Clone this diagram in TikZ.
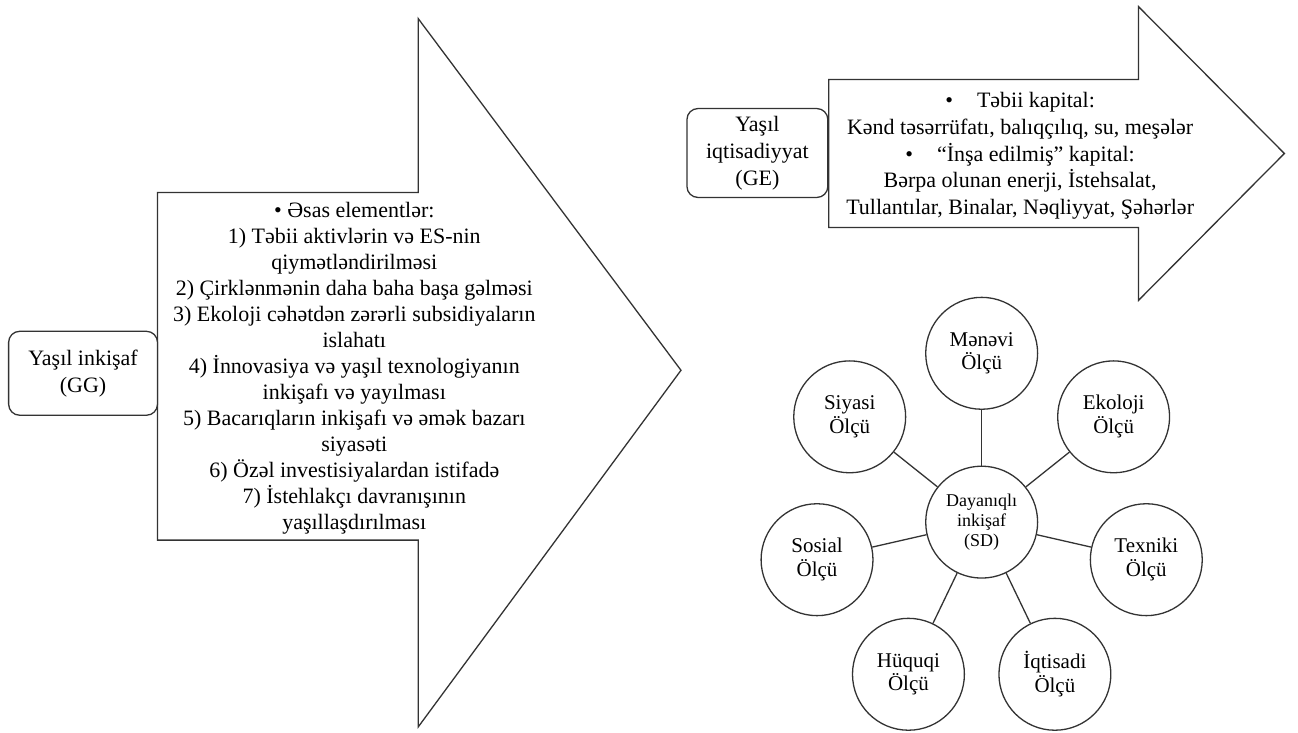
\documentclass[tikz,border=0pt]{standalone}
\usepackage{fontspec}
\setmainfont{Liberation Serif}
\begin{document}
\begin{tikzpicture}[x=1pt,y=-1pt,
  line width=1.3pt,
  every path/.style={draw=black!80},
  shp/.style={draw=black!80,line width=1.3pt,fill=white,line join=miter},
  rbox/.style={draw=black!80,line width=1.3pt,fill=white,rounded corners=11pt,align=center,inner sep=0pt,
    font=\fontsize{22}{27}\selectfont},
  atext/.style={align=center,inner sep=0pt,font=\fontsize{22}{26}\selectfont},
  dim/.style={circle,draw=black!80,line width=1.3pt,fill=white,minimum size=112pt,inner sep=0pt,align=center,
    font=\fontsize{21}{24}\selectfont},
  hub/.style={dim,font=\fontsize{18}{20}\selectfont},
  link/.style={draw=black!80,line width=1.3pt}]
\useasboundingbox (0,0) rectangle (1298,732);
\fill[white] (0,0) rectangle (1298,732);
% left arrow
\draw[shp] (157,192) -- (418,192) -- (418,18) -- (681,370) -- (418,727) -- (418,540) -- (157,540) -- cycle;
\node[atext] (ggtext) at (354,368) {%
  • Əsas elementlər:\\
  1) Təbii aktivlərin və ES-nin\\
  qiymətləndirilməsi\\
  2) Çirklənmənin daha baha başa gəlməsi\\
  3) Ekoloji cəhətdən zərərli subsidiyaların\\
  islahatı\\
  4) İnnovasiya və yaşıl texnologiyanın\\
  inkişafı və yayılması\\
  5) Bacarıqların inkişafı və əmək bazarı\\
  siyasəti\\
  6) Özəl investisiyalardan istifadə\\
  7) İstehlakçı davranışının\\
  yaşıllaşdırılması};
\node[rbox,minimum width=149pt,minimum height=84pt] (gg) at (82.5,373) {Yaşıl inkişaf\\(GG)};
% right arrow
\draw[shp] (829,79) -- (1139,79) -- (1139,6) -- (1285,153) -- (1139,300) -- (1139,227) -- (829,227) -- cycle;
\node[atext,font=\fontsize{22}{26.7}\selectfont] (getext) at (1020.5,155.5) {%
  •\hspace{24pt}Təbii kapital:\\
  Kənd təsərrüfatı, balıqçılıq, su, meşələr\\
  •\hspace{24pt}“İnşa edilmiş” kapital:\\
  Bərpa olunan enerji, İstehsalat,\\
  Tullantılar, Binalar, Nəqliyyat, Şəhərlər};
\node[rbox,minimum width=141pt,minimum height=89pt] (ge) at (757.5,152.5) {Yaşıl\\iqtisadiyyat\\(GE)};
% sustainable development
\node[hub] (sd) at (982,522) {Dayanıqlı\\inkişaf\\(SD)};
\node[dim] (m) at (982,353) {Mənəvi\\Ölçü};
\node[dim] (siy) at (849.9,416.6) {Siyasi\\Ölçü};
\node[dim] (sos) at (817.2,559.6) {Sosial\\Ölçü};
\node[dim] (huq) at (908.7,674.3) {Hüquqi\\Ölçü};
\node[dim] (iqt) at (1055.3,674.3) {İqtisadi\\Ölçü};
\node[dim] (tex) at (1146.8,559.6) {Texniki\\Ölçü};
\node[dim] (eko) at (1114.1,416.6) {Ekoloji\\Ölçü};
\foreach \n in {m,siy,sos,huq,iqt,tex,eko}
  \draw[link] (sd) -- (\n);
\end{tikzpicture}
\end{document}
